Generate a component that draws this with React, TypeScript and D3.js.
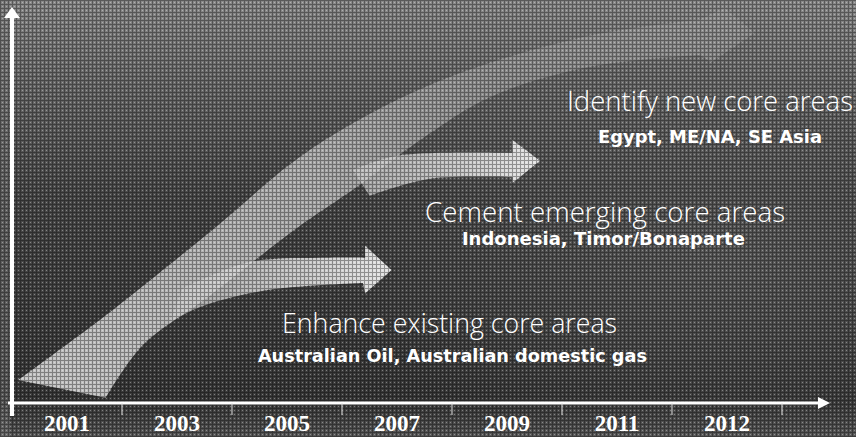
import * as d3 from 'd3'

// x categories (year labels under the axis)
const years: string[] = ['2001', '2003', '2005', '2007', '2009', '2011', '2012']

// arrows, in [year-slot, level 0..100] units
const swooshTop: [number, number][] = [[0.055, 5.8], [0.89, 23], [1.8, 43.3], [2.71, 64.1], [3.8, 80.5], [5.16, 92.4], [6.25, 97]]
const swooshHead: [number, number][] = [[6.48, 100], [6.75, 93.7], [6.36, 86.3]]
const swooshBottom: [number, number][] = [[6.25, 88.1], [5.25, 85.1], [4.35, 77.5], [3.71, 66.6], [3.16, 55.2], [2.59, 44.3], [1.77, 26.6], [1.19, 14.7], [0.85, 1.3]]

const cementTop: [number, number][] = [[3.1, 59], [3.5, 62.6], [4.55, 63.3]]
const cementHead: [number, number][] = [[4.55, 66.6], [4.8, 61.3], [4.55, 55.7]]
const cementBottom: [number, number][] = [[4.55, 57.2], [3.8, 56.8], [3.25, 52.5]]

const enhanceTop: [number, number][] = [[1.55, 29], [2.16, 35.7], [2.89, 36.8], [3.21, 36.8]]
const enhanceHead: [number, number][] = [[3.21, 39.8], [3.45, 33.7], [3.21, 27.7]]
const enhanceBottom: [number, number][] = [[3.19, 30.4], [2.32, 28.6], [1.71, 24.3], [1.44, 20.5]]

// labels
const headlines: string[] = ['Identify new core areas', 'Cement emerging core areas', 'Enhance existing core areas']
const regions: string[] = ['Egypt, ME/NA, SE Asia', 'Indonesia, Timor/Bonaparte', 'Australian Oil, Australian domestic gas']
const headlineAt: [number, number][] = [[5.045, 73.9], [3.755, 45.8], [2.455, 17.7]]
const regionAt: [number, number][] = [[5.327, 65.8], [4.09, 40], [2.236, 10.4]]

export default function App() {
  const width = 856
  const height = 437
  const axisY = 403
  const axisX = 12

  const xBand = d3.scaleBand<string>().domain(years).range([axisX, 782])
  const xPos = d3.scaleLinear().domain([0, years.length]).range([axisX, 782])
  const yLev = d3.scaleLinear().domain([0, 100]).range([axisY, 8])

  const smooth = d3.line<[number, number]>()
    .x(d => xPos(d[0])).y(d => yLev(d[1]))
    .curve(d3.curveCatmullRom)
  const straight = d3.line<[number, number]>()
    .x(d => xPos(d[0])).y(d => yLev(d[1]))

  const arrowPath = (top: [number, number][], head: [number, number][], bottom: [number, number][]) => {
    const a = smooth(top) || ''
    const b = (straight(head) || '').replace(/^M/, 'L')
    const c = (smooth(bottom) || '').replace(/^M/, 'L')
    return a + b + c + 'Z'
  }

  const ticks = d3.range(years.length + 1).map(i => xPos(i))

  return (
    <svg width={width} height={height} style={{ position: 'absolute', left: 0, top: 0, display: 'block' }}>
      <defs>
        <linearGradient id="bg" x1="0" y1="0" x2="0" y2="1">
          <stop offset="0" stopColor="#8a8a8a" />
          <stop offset="0.18" stopColor="#6c6c6c" />
          <stop offset="0.45" stopColor="#4a4a4a" />
          <stop offset="0.92" stopColor="#3a3a3a" />
          <stop offset="1" stopColor="#5a5a5a" />
        </linearGradient>
        <radialGradient id="glow" cx="0.85" cy="0.6" r="0.45">
          <stop offset="0" stopColor="#777" stopOpacity="0.45" />
          <stop offset="1" stopColor="#777" stopOpacity="0" />
        </radialGradient>
        <linearGradient id="swoosh" gradientUnits="userSpaceOnUse" x1="20" y1="400" x2="750" y2="20">
          <stop offset="0" stopColor="#d6d6d6" stopOpacity="0.9" />
          <stop offset="0.45" stopColor="#c2c2c2" stopOpacity="0.8" />
          <stop offset="0.7" stopColor="#a8a8a8" stopOpacity="0.55" />
          <stop offset="1" stopColor="#a0a0a0" stopOpacity="0.45" />
        </linearGradient>
        <linearGradient id="arrow" x1="0" y1="0" x2="1" y2="0">
          <stop offset="0" stopColor="#c8c8c8" stopOpacity="0.7" />
          <stop offset="1" stopColor="#eeeeee" stopOpacity="0.95" />
        </linearGradient>
        <pattern id="dither" width="4" height="4" patternUnits="userSpaceOnUse">
          <path d="M0,0.5H4M0.5,0V4" stroke="#000" strokeWidth="1" opacity="0.35" />
          <path d="M2,2l1,1M3,2l-1,1" stroke="#fff" strokeWidth="0.8" opacity="0.35" />
        </pattern>
      </defs>

      <rect width={width} height={height} fill="url(#bg)" />
      <rect width={width} height={height} fill="url(#glow)" />
      <rect width={axisX - 2} height={height} fill="#7a7a7a" opacity="0.5" />

      <path d={arrowPath(swooshTop, swooshHead, swooshBottom)} fill="url(#swoosh)" />
      <path d={arrowPath(cementTop, cementHead, cementBottom)} fill="url(#arrow)" />
      <path d={arrowPath(enhanceTop, enhanceHead, enhanceBottom)} fill="url(#arrow)" />

      <rect width={width} height={height} fill="url(#dither)" />

      {headlines.map((t, i) => (
        <text key={t} x={xPos(headlineAt[i][0])} y={yLev(headlineAt[i][1])}
          fill="#fff" fontFamily="'Open Sans', sans-serif" fontWeight={300} fontSize={27}
          textLength={[286, 360, 335][i]} lengthAdjust="spacingAndGlyphs">{t}</text>
      ))}
      {regions.map((t, i) => (
        <text key={t} x={xPos(regionAt[i][0])} y={yLev(regionAt[i][1])}
          fill="#fff" fontFamily="'DejaVu Sans', sans-serif" fontWeight="bold" fontSize={17}
          textLength={[224, 283, 389][i]} lengthAdjust="spacingAndGlyphs">{t}</text>
      ))}

      {/* y axis */}
      <line x1={axisX} x2={axisX} y1={416} y2={16} stroke="#fff" strokeWidth={4} />
      <path d={`M${axisX - 8},${18}L${axisX},${7}L${axisX + 8},${18}Z`} fill="#fff" />

      {/* x axis */}
      <line x1={axisX - 4} x2={820} y1={axisY} y2={axisY} stroke="#fff" strokeWidth={3} />
      <path d={`M${818},${axisY - 6}L${830},${axisY}L${818},${axisY + 6}Z`} fill="#fff" />
      {ticks.slice(1).map(t => (
        <line key={t} x1={t} x2={t} y1={axisY} y2={axisY + 12} stroke="#e0e0e0" strokeWidth={1} />
      ))}
      {years.map(y => (
        <text key={y} x={(xBand(y) || 0) + xBand.bandwidth() / 2} y={431} textAnchor="middle"
          fill="#fff" fontFamily="'Liberation Serif', serif" fontWeight="bold" fontSize={23}>{y}</text>
      ))}
    </svg>
  )
}
